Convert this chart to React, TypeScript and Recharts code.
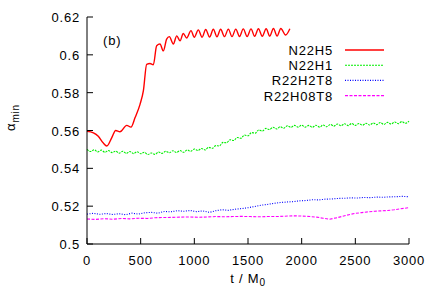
import { LineChart, Line, XAxis, YAxis, Legend, Label } from "recharts";

// time axis (t / M0) and alpha_min values
const xTicks = [0, 500, 1000, 1500, 2000, 2500, 3000];
const yTicks = [0.5, 0.52, 0.54, 0.56, 0.58, 0.6, 0.62];
const seriesNames = ["N22H5", "N22H1", "R22H2T8", "R22H08T8"];

const n22h5: [number, number][] = [
  [0, 0.5596], [60, 0.5588], [105, 0.557], [150, 0.5535], [185, 0.5518], [230, 0.5561],
  [267, 0.56], [307, 0.5593], [370, 0.5627], [410, 0.5618], [447, 0.5667], [494, 0.5738],
  [525, 0.5809], [556, 0.595], [587, 0.5954], [618, 0.5947], [649, 0.6048], [680, 0.6057],
  [711, 0.6021], [742, 0.6083], [767, 0.6096], [804, 0.6057], [836, 0.61], [867, 0.6074],
  [897, 0.6113], [929, 0.6089], [969, 0.6128], [1000, 0.6093], [1037, 0.6132], [1072, 0.6093],
  [1106, 0.6134], [1142, 0.6094], [1177, 0.6135], [1211, 0.6095], [1245, 0.6135], [1281, 0.6096],
  [1317, 0.6136], [1351, 0.6096], [1386, 0.6136], [1421, 0.6097], [1456, 0.6137], [1492, 0.6097],
  [1528, 0.6137], [1562, 0.6098], [1597, 0.6138], [1633, 0.6098], [1669, 0.6138], [1703, 0.6099],
  [1737, 0.6139], [1771, 0.6099], [1806, 0.6139], [1850, 0.6105], [1890, 0.6138],
];

const n22h1: [number, number][] = [
  [0, 0.55], [33, 0.5489], [67, 0.5498], [100, 0.5487], [133, 0.5496], [167, 0.5485],
  [200, 0.5494], [233, 0.5483], [267, 0.5491], [300, 0.548], [333, 0.549], [367, 0.5479],
  [400, 0.5489], [433, 0.5478], [467, 0.5488], [500, 0.5477], [533, 0.5485], [567, 0.5473],
  [600, 0.5481], [633, 0.5474], [667, 0.5486], [700, 0.5479], [733, 0.549], [767, 0.5482],
  [800, 0.5493], [833, 0.5484], [867, 0.5494], [900, 0.5485], [933, 0.5497], [967, 0.549],
  [1000, 0.5502], [1033, 0.5494], [1067, 0.5505], [1100, 0.5497], [1133, 0.5511], [1167, 0.5506],
  [1200, 0.552], [1233, 0.5518], [1267, 0.5537], [1300, 0.5535], [1333, 0.5551], [1367, 0.5547],
  [1400, 0.5563], [1433, 0.5559], [1467, 0.5576], [1500, 0.5572], [1533, 0.5589], [1567, 0.5586],
  [1600, 0.5603], [1633, 0.5597], [1667, 0.5611], [1700, 0.5605], [1733, 0.5617], [1767, 0.5608],
  [1800, 0.562], [1833, 0.5612], [1867, 0.5625], [1900, 0.5617], [1933, 0.5627], [1967, 0.5618],
  [2000, 0.5628], [2033, 0.5618], [2067, 0.5627], [2100, 0.5617], [2133, 0.5628], [2167, 0.5618],
  [2200, 0.5629], [2233, 0.562], [2267, 0.5632], [2300, 0.5623], [2333, 0.5634], [2367, 0.5625],
  [2400, 0.5636], [2433, 0.5626], [2467, 0.5637], [2500, 0.5627], [2533, 0.5637], [2567, 0.5628],
  [2600, 0.5638], [2633, 0.5629], [2667, 0.564], [2700, 0.5631], [2733, 0.5642], [2767, 0.5632],
  [2800, 0.5643], [2833, 0.5634], [2867, 0.5645], [2900, 0.5636], [2933, 0.5647], [2967, 0.5638],
  [3000, 0.565],
];

const r22h2t8: [number, number][] = [
  [0, 0.5158], [60, 0.5162], [120, 0.5157], [180, 0.5161], [240, 0.5156], [300, 0.516],
  [360, 0.5155], [420, 0.5163], [480, 0.5158], [540, 0.5165], [600, 0.5167], [660, 0.5163],
  [720, 0.5172], [780, 0.517], [840, 0.5176], [900, 0.5173], [960, 0.5177], [1020, 0.5171],
  [1080, 0.5175], [1140, 0.5167], [1200, 0.5176], [1260, 0.5181], [1320, 0.5178], [1380, 0.5184],
  [1440, 0.5187], [1500, 0.5192], [1560, 0.5198], [1620, 0.5205], [1680, 0.5209], [1740, 0.5215],
  [1800, 0.5219], [1860, 0.5222], [1920, 0.5224], [1980, 0.5228], [2040, 0.523], [2100, 0.5234],
  [2160, 0.5233], [2220, 0.5237], [2280, 0.5238], [2340, 0.5241], [2400, 0.5242], [2460, 0.5244],
  [2520, 0.5243], [2580, 0.5246], [2640, 0.5245], [2700, 0.5248], [2760, 0.5247], [2820, 0.5249],
  [2880, 0.525], [2940, 0.5252], [3000, 0.525],
];

const r22h08t8: [number, number][] = [
  [0, 0.5132], [80, 0.513], [160, 0.5134], [240, 0.5131], [320, 0.5135], [400, 0.5133],
  [480, 0.5136], [560, 0.5135], [640, 0.5139], [720, 0.514], [800, 0.5141], [880, 0.5142],
  [960, 0.5143], [1040, 0.5141], [1120, 0.5143], [1200, 0.5145], [1280, 0.5144], [1360, 0.5145],
  [1440, 0.5146], [1520, 0.5145], [1600, 0.5144], [1680, 0.5145], [1760, 0.5145], [1840, 0.5147],
  [1920, 0.5149], [2000, 0.5148], [2080, 0.5145], [2140, 0.5142], [2200, 0.5136], [2260, 0.5131],
  [2320, 0.5138], [2380, 0.5146], [2440, 0.5155], [2500, 0.5162], [2560, 0.5166], [2620, 0.517],
  [2680, 0.5173], [2740, 0.5175], [2800, 0.5177], [2860, 0.5181], [2920, 0.5186], [3000, 0.5192],
];

const toPoints = (pairs: [number, number][]) => pairs.map(([t, v]) => ({ t, v }));

const dashes: Record<string, string | undefined> = {
  N22H5: undefined,
  N22H1: "2 1",
  R22H2T8: "1 1.5",
  R22H08T8: "3 1.5",
};

const FONT = "'Liberation Sans', Arial, sans-serif";
const textStyle = { fontFamily: FONT, fontSize: 13, letterSpacing: 0.8, fill: "#000" };

const BottomTick = ({ x, y, payload }: any) => (
  <g>
    <line x1={x} x2={x} y1={y} y2={y - 6} stroke="#000" />
    <text x={x} y={y + 21} textAnchor="middle" style={textStyle}>{payload.value}</text>
  </g>
);
const TopTick = ({ x, y }: any) => <line x1={x} x2={x} y1={y} y2={y + 6} stroke="#000" />;
const LeftTick = ({ x, y, payload }: any) => (
  <g>
    <line x1={x} x2={x + 6} y1={y} y2={y} stroke="#000" />
    <text x={x - 7} y={y + 5} textAnchor="end" style={textStyle}>{String(payload.value)}</text>
  </g>
);
const RightTick = ({ x, y }: any) => <line x1={x} x2={x - 6} y1={y} y2={y} stroke="#000" />;

const renderLegend = (props: any) => {
  const rows = [...(props.payload || [])].sort(
    (a: any, b: any) => seriesNames.indexOf(a.value) - seriesNames.indexOf(b.value)
  );
  return (
    <svg width={200} height={64}>
      {rows.map((entry: any, i: number) => {
        const cy = 10 + i * 15.2;
        return (
          <g key={entry.value}>
            <text x={133} y={cy + 5} textAnchor="end" style={textStyle}>{entry.value}</text>
            <line x1={145} x2={184} y1={cy} y2={cy} stroke={entry.color} strokeWidth={entry.value === "N22H5" ? 1.4 : 1.1} strokeDasharray={dashes[entry.value]} />
          </g>
        );
      })}
    </svg>
  );
};

export default function App() {
  return (
    <div style={{ position: "absolute", left: 0, top: 0, width: 436, height: 305, background: "#fff" }}>
      <LineChart width={436} height={305} margin={{ top: 17, right: 27, left: 0, bottom: 0 }}>
        <XAxis
          xAxisId="b"
          dataKey="t"
          type="number"
          domain={[0, 3000]}
          ticks={xTicks}
          height={61}
          tickSize={0}
          tickMargin={0}
          tickLine={false}
          axisLine={{ stroke: "#000" }}
          tick={<BottomTick />}
          label={
            <Label
              content={({ viewBox }: any) => (
                <text x={viewBox.x + viewBox.width / 2} y={viewBox.y + 39} textAnchor="middle" style={textStyle}>
                  t / M<tspan dy={3} fontSize={10}>0</tspan>
                </text>
              )}
            />
          }
        />
        <XAxis
          xAxisId="t"
          orientation="top"
          dataKey="t"
          type="number"
          domain={[0, 3000]}
          ticks={xTicks}
          height={0}
          tickSize={0}
          tickMargin={0}
          tickLine={false}
          axisLine={{ stroke: "#000" }}
          tick={<TopTick />}
        />
        <YAxis
          yAxisId="l"
          type="number"
          domain={[0.5, 0.62]}
          ticks={yTicks}
          allowDataOverflow
          width={87}
          tickSize={0}
          tickMargin={0}
          tickLine={false}
          axisLine={{ stroke: "#000" }}
          tick={<LeftTick />}
          label={
            <Label
              content={({ viewBox }: any) => {
                const cx = 15;
                const cy = viewBox.y + viewBox.height / 2 - 13;
                return (
                  <text x={cx} y={cy} transform={`rotate(-90 ${cx} ${cy})`} textAnchor="middle" style={textStyle}>
                    α<tspan dy={4} fontSize={10}>min</tspan>
                  </text>
                );
              }}
            />
          }
        />
        <YAxis
          yAxisId="r"
          orientation="right"
          type="number"
          domain={[0.5, 0.62]}
          ticks={yTicks}
          allowDataOverflow
          width={0}
          tickSize={0}
          tickMargin={0}
          tickLine={false}
          axisLine={{ stroke: "#000" }}
          tick={<RightTick />}
        />
        <Legend
          layout="vertical"
          align="center"
          verticalAlign="middle"
          content={renderLegend}
          wrapperStyle={{ position: "absolute", left: 200, top: 40, width: 200, height: 64 }}
        />
        <Line xAxisId="b" yAxisId="l" data={toPoints(n22h5)} dataKey="v" name="N22H5" type="monotone" stroke="#ff0000" strokeWidth={1.4} dot={false} isAnimationActive={false} />
        <Line xAxisId="b" yAxisId="l" data={toPoints(n22h1)} dataKey="v" name="N22H1" type="monotone" stroke="#00ee00" strokeWidth={1.1} strokeDasharray={dashes.N22H1} dot={false} isAnimationActive={false} />
        <Line xAxisId="b" yAxisId="l" data={toPoints(r22h2t8)} dataKey="v" name="R22H2T8" type="linear" stroke="#0000ff" strokeWidth={1.1} strokeDasharray={dashes.R22H2T8} dot={false} isAnimationActive={false} />
        <Line xAxisId="b" yAxisId="l" data={toPoints(r22h08t8)} dataKey="v" name="R22H08T8" type="linear" stroke="#ff00ff" strokeWidth={1.1} strokeDasharray={dashes.R22H08T8} dot={false} isAnimationActive={false} />
      </LineChart>
      <div style={{ position: "absolute", left: 103, top: 33, fontFamily: FONT, fontSize: 13, letterSpacing: 0.8 }}>(b)</div>
    </div>
  );
}
